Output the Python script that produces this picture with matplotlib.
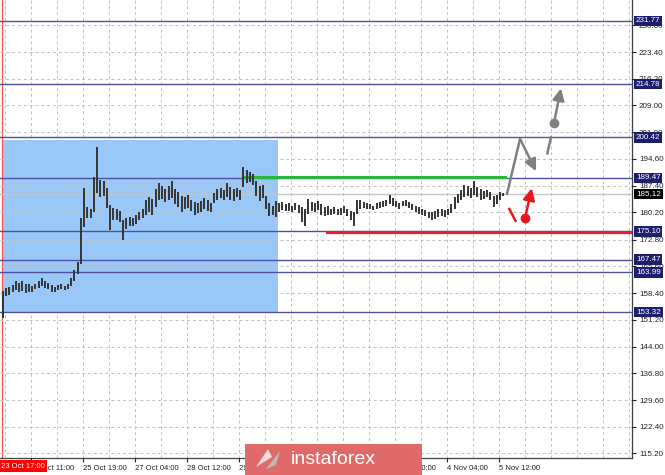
import matplotlib.pyplot as plt
from matplotlib.patches import Rectangle, Polygon
from matplotlib.transforms import blended_transform_factory

plt.rcParams['font.family'] = ['Liberation Sans', 'DejaVu Sans']

# ----------------------------------
# Data
# ----------------------------------
highs = [159.0, 159.8, 160.2, 160.6, 161.8, 161.2, 161.6, 160.8, 161.0, 160.4,
         161.0, 161.6, 162.6, 161.8, 161.2, 160.6, 160.2, 160.6, 160.8, 160.4,
         161.0, 162.4, 164.6, 166.8, 178.8, 186.8, 181.6, 181.2, 189.6, 197.9,
         188.8, 188.6, 186.8, 182.2, 181.4, 181.0, 180.6, 178.0, 178.6, 179.0,
         178.8, 179.4, 180.2, 181.0, 183.6, 184.2, 183.8, 186.4, 188.0, 187.4,
         186.6, 187.2, 188.6, 186.4, 185.6, 184.6, 184.2, 184.8, 183.6, 183.0,
         182.6, 183.2, 184.0, 183.6, 182.8, 185.4, 186.6, 186.8, 186.2, 188.2,
         187.0, 186.4, 186.8, 186.2, 192.4, 191.6, 191.0, 190.4, 188.6, 187.4,
         187.6, 184.6, 182.6, 182.0, 183.2, 182.6, 183.0, 182.4, 182.8, 182.0,
         182.6, 182.2, 181.6, 181.0, 183.8, 183.0, 182.6, 183.2, 182.4, 181.6,
         182.0, 181.2, 181.6, 181.0, 181.4, 181.8, 181.2, 180.6, 180.2, 183.6,
         183.4, 183.0, 182.6, 182.4, 182.0, 182.6, 183.0, 183.2, 183.6, 184.8,
         184.0, 183.2, 182.8, 183.2, 183.6, 183.0, 182.4, 181.8, 181.6, 181.2,
         180.8, 180.4, 180.2, 180.6, 181.2, 181.0, 180.8, 181.2, 182.4, 184.2,
         185.2, 186.2, 187.6, 187.2, 186.8, 188.7, 187.0, 186.4, 186.0, 186.2,
         185.6, 184.6, 185.0, 185.6, 185.4]
lows = [151.8, 157.6, 158.0, 158.6, 159.2, 158.8, 159.0, 158.4, 158.6, 158.8,
        159.4, 159.8, 160.4, 159.8, 159.4, 158.6, 158.6, 159.2, 159.4, 159.2,
        159.6, 160.4, 161.6, 163.6, 166.2, 176.2, 178.6, 178.8, 180.2, 185.4,
        184.2, 184.6, 181.4, 175.4, 178.2, 178.0, 177.6, 172.7, 175.8, 176.6,
        176.4, 177.0, 178.0, 178.6, 179.6, 180.4, 179.4, 181.6, 183.4, 183.8,
        183.0, 183.6, 184.0, 182.4, 181.6, 180.2, 181.0, 181.4, 180.6, 179.6,
        180.0, 180.4, 181.2, 180.6, 180.4, 182.6, 183.6, 184.0, 183.4, 184.4,
        183.6, 183.2, 184.4, 183.6, 187.0, 188.0, 188.4, 187.6, 184.6, 183.2,
        184.0, 181.0, 179.2, 179.4, 179.0, 180.4, 180.8, 180.6, 180.6, 180.4,
        180.8, 180.0, 177.6, 176.4, 179.8, 180.6, 180.2, 180.8, 179.6, 179.2,
        179.6, 179.6, 179.8, 179.4, 179.6, 180.0, 179.2, 178.2, 176.4, 179.8,
        181.2, 181.4, 181.2, 181.0, 180.8, 181.2, 181.4, 181.6, 182.0, 182.4,
        182.0, 181.6, 181.2, 181.8, 182.0, 181.4, 180.8, 180.2, 179.8, 179.6,
        179.2, 178.8, 178.2, 178.4, 179.0, 179.2, 179.0, 179.4, 180.0, 181.0,
        182.6, 183.6, 184.4, 184.6, 184.0, 184.8, 184.2, 183.6, 183.8, 184.2,
        183.4, 181.6, 182.4, 183.6, 184.6]
bar_idx = list(range(len(highs)))

levels = [231.77, 214.78, 200.42, 189.47, 175.10, 167.47, 163.99, 153.32]
last_price = 185.12
resistance = 189.47
support = 175.10

# zone (bar range, price range)
zone_bars = [-0.3, 84.6]
zone_prices = [153.0, 199.7]
green_bars = [74.5, 154.5]
red_bars = [99.7, 194.0]

ytick_vals = [115.20, 122.40, 129.60, 136.80, 144.00, 151.20, 158.40, 165.60,
              172.80, 180.20, 187.40, 194.60, 201.80, 209.00, 216.20, 223.40, 230.60]
xtick_pos = [8.5, 24.5, 40.5, 56.5, 72.5, 88.5, 104.5, 120.5, 136.5, 152.5]
xtick_labels = ['24 Oct 11:00', '25 Oct 19:00', '27 Oct 04:00', '28 Oct 12:00',
                '29 Oct 20:00', '31 Oct 04:00', '1 Nov 12:00', '2 Nov 20:00',
                '4 Nov 04:00', '5 Nov 12:00']
xgrid_pos = [0.5 + 8 * k for k in range(25)]

# scenario arrows (bar index, price)
gray_up_down = [(155.0, 184.9), (159.1, 200.0), (164.0, 191.3)]
gray_dash = [(167.5, 196.1), (168.6, 200.4)]
gray_dot = (169.5, 204.2)
gray_tip = (171.7, 213.6)
red_dash = [(155.8, 181.1), (157.7, 177.9)]
red_dot = (160.6, 178.6)
red_tip = (162.7, 186.7)

# ----------------------------------
# Figure
# ----------------------------------
fig = plt.figure(figsize=(6.65, 4.75), dpi=100)
ax = fig.add_axes([0, 17 / 475, 632 / 665, 458 / 475])
ax.set_xlim(-0.923, 193.54)
ax.set_ylim(113.98, 237.43)

ax.add_patch(Rectangle((zone_bars[0], zone_prices[0]), zone_bars[1] - zone_bars[0],
                       zone_prices[1] - zone_prices[0], facecolor='#99c8f8',
                       edgecolor='none', zorder=0.5))

ax.axvline(-0.4, color='#ff5050', lw=0.9, zorder=1)
ax.axhline(last_price, color='#c4c4c4', lw=1.0, zorder=2.6)
for lv in levels:
    ax.axhline(lv, color='#50509e', lw=1.0, zorder=3)

ax.plot(green_bars, [resistance + 0.25, resistance + 0.25], color='#2cb540', lw=2.2, zorder=3.2)
ax.plot(red_bars, [support - 0.3, support - 0.3], color='#e8202c', lw=2.3, zorder=3.2)

ax.vlines(bar_idx, lows, highs, color='#343434', lw=1.4, zorder=4)

# arrows
gcol = '#808080'
rcol = '#e8141e'
aprops = dict(arrowstyle='-|>,head_length=0.7,head_width=0.35', lw=1.8,
              shrinkA=0, shrinkB=0, mutation_scale=10)
ax.plot([gray_up_down[0][0], gray_up_down[1][0]], [gray_up_down[0][1], gray_up_down[1][1]],
        color=gcol, lw=1.8, zorder=5, solid_capstyle='butt')
ax.annotate('', xy=gray_up_down[2], xytext=gray_up_down[1],
            arrowprops=dict(color=gcol, **aprops), zorder=5)
ax.plot([p[0] for p in gray_dash], [p[1] for p in gray_dash], color=gcol, lw=1.8, zorder=5)
ax.plot(*gray_dot, marker='o', ms=6, color=gcol, zorder=5)
ax.annotate('', xy=gray_tip, xytext=gray_dot, arrowprops=dict(color=gcol, **aprops), zorder=5)

ax.plot([p[0] for p in red_dash], [p[1] for p in red_dash], color=rcol, lw=1.8, zorder=5)
ax.plot(*red_dot, marker='o', ms=6, color=rcol, zorder=5)
ax.annotate('', xy=red_tip, xytext=red_dot, arrowprops=dict(color=rcol, **aprops), zorder=5)

# axes, ticks, grid
for s in ['left', 'top']:
    ax.spines[s].set_visible(False)
for s in ['right', 'bottom']:
    ax.spines[s].set_color('#404040')
    ax.spines[s].set_linewidth(0.9)

ax.yaxis.tick_right()
ax.set_yticks(ytick_vals)
ax.set_yticklabels([f'{v:.2f}' for v in ytick_vals])
ax.tick_params(axis='y', direction='out', length=3, width=0.8, pad=2,
               labelsize=5.8, colors='#222222')
ax.set_xticks(xtick_pos)
ax.set_xticklabels(xtick_labels, ha='left')
ax.set_xticks(xgrid_pos, minor=True)
ax.tick_params(axis='x', which='major', direction='out', length=3, width=0.8,
               pad=2, labelsize=5.5, colors='#222222')
ax.tick_params(axis='x', which='minor', length=0)

ax.set_axisbelow(False)
ax.grid(True, axis='y', color='#c0c0c0', lw=0.7, linestyle=(0, (3, 3)), zorder=2)
ax.grid(True, axis='x', which='both', color='#c0c0c0', lw=0.7, linestyle=(0, (3, 3)), zorder=2)

# boxed price labels on the right axis
tr = blended_transform_factory(ax.transAxes, ax.transData)
for lv in levels:
    ax.text(1 + 4 / 632, lv, f'{lv:.2f}', transform=tr, ha='left', va='center',
            fontsize=5.8, color='white', clip_on=False, zorder=6,
            bbox=dict(boxstyle='square,pad=0.22', fc='#1e1e6e', ec='none'))
ax.text(1 + 4 / 632, last_price, f'{last_price:.2f}', transform=tr, ha='left',
        va='center', fontsize=5.8, color='white', clip_on=False, zorder=6,
        bbox=dict(boxstyle='square,pad=0.22', fc='#000000', ec='none'))

# current-time marker
fig.text(1 / 665, 9 / 475, '23 Oct 17:00', fontsize=5.5, color='white', ha='left',
         va='center', zorder=12,
         bbox=dict(boxstyle='square,pad=0.35', fc='#ff0000', ec='none'))

# watermark logo
fig.patches.append(Rectangle((245 / 665, 0), 177 / 665, 31 / 475, transform=fig.transFigure,
                             facecolor='#e06a6a', edgecolor='none', zorder=10))
fig.patches.append(Polygon([(256 / 665, 8 / 475), (268 / 665, 26 / 475), (272 / 665, 18 / 475)],
                           closed=True, transform=fig.transFigure, facecolor='#f4dada',
                           edgecolor='none', zorder=11))
fig.patches.append(Polygon([(266 / 665, 6 / 475), (280 / 665, 24 / 475), (276 / 665, 10 / 475)],
                           closed=True, transform=fig.transFigure, facecolor='#b9b9b9',
                           edgecolor='none', zorder=11))
fig.text(333 / 665, 16 / 475, 'instaforex', fontsize=14, color='white', ha='center',
         va='center', zorder=12)

fig.savefig('out.png', dpi=100, facecolor='white')
